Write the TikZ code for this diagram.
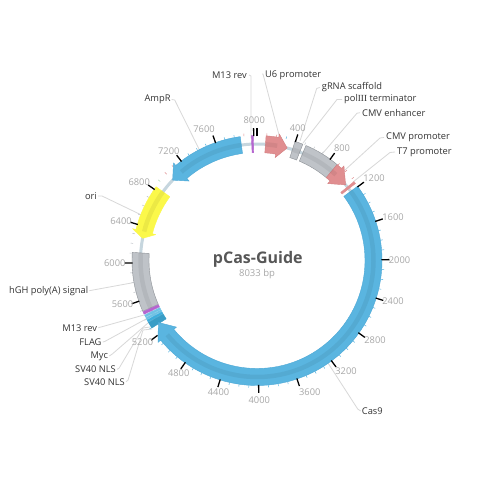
\documentclass[tikz,border=0pt]{standalone}
\usepackage{fontspec}
\setmainfont{Open Sans}
\newfontfamily\romfont{Liberation Serif}
\definecolor{fblue}{HTML}{5AB5E0}
\definecolor{fblueE}{HTML}{4CA8D6}
\definecolor{fcyan}{HTML}{3FAEDC}
\definecolor{fpink}{HTML}{E08E90}
\definecolor{fpinkE}{HTML}{D48082}
\definecolor{fgray}{HTML}{BFC3C8}
\definecolor{fgrayE}{HTML}{8E9297}
\definecolor{fyellow}{HTML}{FBF84A}
\definecolor{fpurple}{HTML}{B565CF}
\definecolor{fgreen}{HTML}{A8D8B0}
\definecolor{bbone}{HTML}{C6D6DE}
\definecolor{leader}{HTML}{D8D8D8}
\definecolor{txt}{HTML}{333333}
\definecolor{numc}{HTML}{A8A8A8}
\tikzset{
  declare function={ang(\b)=90-\b/8033*360;},
  lab/.style={font=\fontsize{9.3}{11}\selectfont,text=txt,inner sep=0pt},
  num/.style={font=\fontsize{9.3}{11}\selectfont,text=numc,inner sep=0pt},
  lead/.style={draw=leader,line width=.8pt,line join=round},
  majortick/.style={draw=black,line width=1.3pt},
  minortick/.style={line width=.5pt},
}
\def\Ro{125}\def\Ri{108}\def\Rm{116.5}\def\Rho{128.5}\def\Rhi{104.5}
\newcommand{\band}[4]{% a b fill edge
  \pgfmathsetmacro\aa{ang(#1)}\pgfmathsetmacro\ab{ang(#2)}
  \filldraw[fill=#3,draw=#4,line width=.4pt] (\aa:\Ro) arc[start angle=\aa,end angle=\ab,radius=\Ro] -- (\ab:\Ri) arc[start angle=\ab,end angle=\aa,radius=\Ri] -- cycle;}
\newcommand{\strip}[2]{%
  \pgfmathsetmacro\aa{ang(#1)}\pgfmathsetmacro\ab{ang(#2)}
  \draw[black,opacity=.06,line width=4.5pt] (\aa:\Rm) arc[start angle=\aa,end angle=\ab,radius=\Rm];}
\newcommand{\arrowband}[5]{% a base tip fill edge
  \pgfmathsetmacro\aa{ang(#1)}\pgfmathsetmacro\ab{ang(#2)}\pgfmathsetmacro\ac{ang(#3)}
  \filldraw[fill=#4,draw=#5,line width=.4pt,line join=round] (\aa:\Ro) arc[start angle=\aa,end angle=\ab,radius=\Ro] -- (\ab:\Rho) -- (\ac:\Rm) -- (\ab:\Rhi) -- (\ab:\Ri) arc[start angle=\ab,end angle=\aa,radius=\Ri] -- cycle;}
\begin{document}
\begin{tikzpicture}[x=1pt,y=-1pt]
\useasboundingbox[fill=white] (0,0) rectangle (500,500);
% leaders
\coordinate (eM1) at (251,138);
\coordinate (eU6) at (279,135);
\coordinate (eGR) at (300,141);
\coordinate (ePT) at (303,143);
\coordinate (eCE) at (323,153);
\coordinate (eCP) at (345,170);
\coordinate (eT7) at (353,182);
\coordinate (eCas) at (328,363);
\coordinate (eAmp) at (199.5,150);
\coordinate (eOri) at (141.5,215);
\coordinate (eHGH) at (133,282.7);
\coordinate (eM2) at (144,315);
\coordinate (eFL) at (146,319);
\coordinate (eMy) at (148,323);
\coordinate (eS1) at (150,327);
\coordinate (eS2) at (152,329);
\coordinate (bS1) at (143,328);
\coordinate (bS2) at (143,330);
\node[lab,anchor=east] (lM1) at (247,75) {M13 rev};
\node[lab,anchor=west] (lU6) at (265,75) {U6 promoter};
\node[lab,anchor=west] (lGR) at (321.7,87.5) {gRNA scaffold};
\node[lab,anchor=west] (lPT) at (344,99.5) {pol{\romfont III} terminator};
\node[lab,anchor=west] (lCE) at (362,112.7) {CMV enhancer};
\node[lab,anchor=west] (lCP) at (386,137.5) {CMV promoter};
\node[lab,anchor=west] (lT7) at (397,152) {T7 promoter};
\node[lab,anchor=west] (lCas) at (361.7,411) {Cas9};
\node[lab,anchor=east] (lAmp) at (170.7,99.5) {AmpR};
\node[lab,anchor=east] (lOri) at (97,196) {ori};
\node[lab,anchor=east] (lHGH) at (88.3,290.7) {hGH poly(A) signal};
\node[lab,anchor=east] (lM2) at (97.3,327.7) {M13 rev};
\node[lab,anchor=east] (lFL) at (101.7,342) {FLAG};
\node[lab,anchor=east] (lMy) at (108.3,356) {Myc};
\node[lab,anchor=east] (lS1) at (116,369.3) {SV40 NLS};
\node[lab,anchor=east] (lS2) at (125,381.7) {SV40 NLS};
\draw[lead] (lM1.east) ++(2,0) -- ++(2,1) -- (eM1);
\draw[lead] (lU6.west) ++(-3,-1) -- ++(1,0) -- (eU6);
\draw[lead] (lGR.west) ++(-2,0) -- ++(-3,1) -- (eGR);
\draw[lead] (lPT.west) ++(-2,0) -- ++(-5,0) -- (ePT);
\draw[lead] (lCE.west) ++(-2,0) -- ++(-3,.5) -- (eCE);
\draw[lead] (lCP.west) ++(-2,0) -- ++(-4,.5) -- (eCP);
\draw[lead] (lT7.west) ++(-2,0) -- ++(-5,.5) -- (eT7);
\draw[lead] (lCas.west) ++(-1,0) -- ++(-3,-2) -- (eCas);
\draw[lead] (lAmp.east) ++(1,0) -- ++(3,.5) -- (eAmp);
\draw[lead] (lOri.east) ++(1,0) -- ++(4,0) -- (eOri);
\draw[lead] (lHGH.east) ++(1,0) -- (eHGH);
\draw[lead] (lM2.east) ++(1,0) -- ++(2,-.5) -- (eM2);
\draw[lead] (lFL.east) ++(1,0) -- ++(2,-.5) -- (eFL);
\draw[lead] (lMy.east) ++(1,0) -- ++(3,-2) -- (eMy);
\draw[lead] (lS1.east) ++(1,0) -- ++(2,-1) -- (bS1) -- (eS1);
\draw[lead] (lS2.east) ++(1,0) -- ++(2,-1.5) -- (bS2) -- (eS2);
% ring, shifted to plasmid centre
\begin{scope}[shift={(257,260.5)},y=1pt]
\draw[bbone,line width=3pt] (0,0) circle[radius=\Rm];
% minor ticks
\foreach \b/\c in {100/fpink,200/fpink,300/fblue,500/fgray,600/fgray,700/fgray,900/fpink,1000/fpink,1100/fpink,
 1300/fblue,1400/fblue,1500/fblue,1700/fblue,1800/fblue,1900/fblue,2100/fblue,2200/fblue,2300/fblue,2500/fblue,2600/fblue,2700/fblue,2900/fblue,3000/fblue,3100/fblue,3300/fblue,3400/fblue,3500/fblue,3700/fblue,3800/fblue,3900/fblue,4100/fblue,4200/fblue,4300/fblue,4500/fblue,4600/fblue,4700/fblue,4900/fblue,5000/fblue,5100/fblue,
 5300/fblue,5400/fgray,5500/fgray,5700/fgray,5800/fgray,5900/fgray,6100/fgray,6200/fgray,6300/fgray,6500/fgray,6600/fgray,6700/fgray,6900/fgreen,7000/fpink,7100/fpink,7300/fblue,7400/fblue,7500/fblue,7700/fblue,7800/fblue,7900/fpink}{
  \pgfmathsetmacro\t{ang(\b)}
  \draw[minortick,\c] (\t:125) -- (\t:127.5);
}
% features
\arrowband{7861}{7129}{6998}{fblue}{fblueE}\strip{7861}{7129}
\arrowband{6832}{6345}{6270}{fyellow}{fyellow}\strip{6832}{6345}
\band{5490}{6108}{fgray}{fgrayE}\strip{5490}{6108}
\band{5457}{5485}{fpurple}{fpurple}
\band{5425}{5447}{fcyan!75!white}{fcyan!75!white}
\band{5398}{5418}{fcyan!75!white}{fcyan!75!white}
\band{5368}{5391}{fcyan}{fcyan}
\band{5295}{5362}{fcyan!90!black}{fcyan!90!black}
\arrowband{1195}{5141}{5308}{fblue}{fblueE}\strip{1195}{5141}
\band{7975}{7995}{fpurple}{fpurple}
\arrowband{93}{223}{335}{fpink}{fpinkE}\strip{93}{223}
\band{395}{480}{fgray}{fgrayE}\strip{395}{480}
\band{515}{890}{fgray}{fgrayE}\strip{515}{890}
\arrowband{890}{950}{1105}{fpink}{fpinkE}\strip{890}{950}
\band{1135}{1160}{fpink}{fpink}
% major ticks
\foreach \b in {0,400,800,...,8000}{
  \pgfmathsetmacro\t{ang(\b)}
  \draw[majortick] (\t:124.5) -- (\t:132.5);
}
\end{scope}
% numbers
\foreach \n/\x/\y in {8000/254.2/120,7600/204/129.3,7200/168.8/150.7,6800/139.2/181.7,6400/121/220.7,6000/114.8/262.7,5600/122.5/304.3,5200/142.5/342.3,4800/178.7/372.7,4400/218.5/392.3,4000/259.3/400,3600/309.8/391.7,3200/346/370.7,2800/375/339.7,2400/393/301.3,2000/399.5/259.7,1600/393/216.7,1200/374/178.3,800/342/148.3,400/297.8/127.7}{
  \node[num] (n\n) at (\x,\y) {\n};
}
\node[font=\bfseries\fontsize{16}{18}\selectfont,text=black!66,inner sep=0pt] (title) at (257.8,259.5) {pCas-Guide};
\node[font=\fontsize{9.5}{11}\selectfont,text=numc,inner sep=0pt] (size) at (257,274) {8033 bp};
\end{tikzpicture}
\end{document}
